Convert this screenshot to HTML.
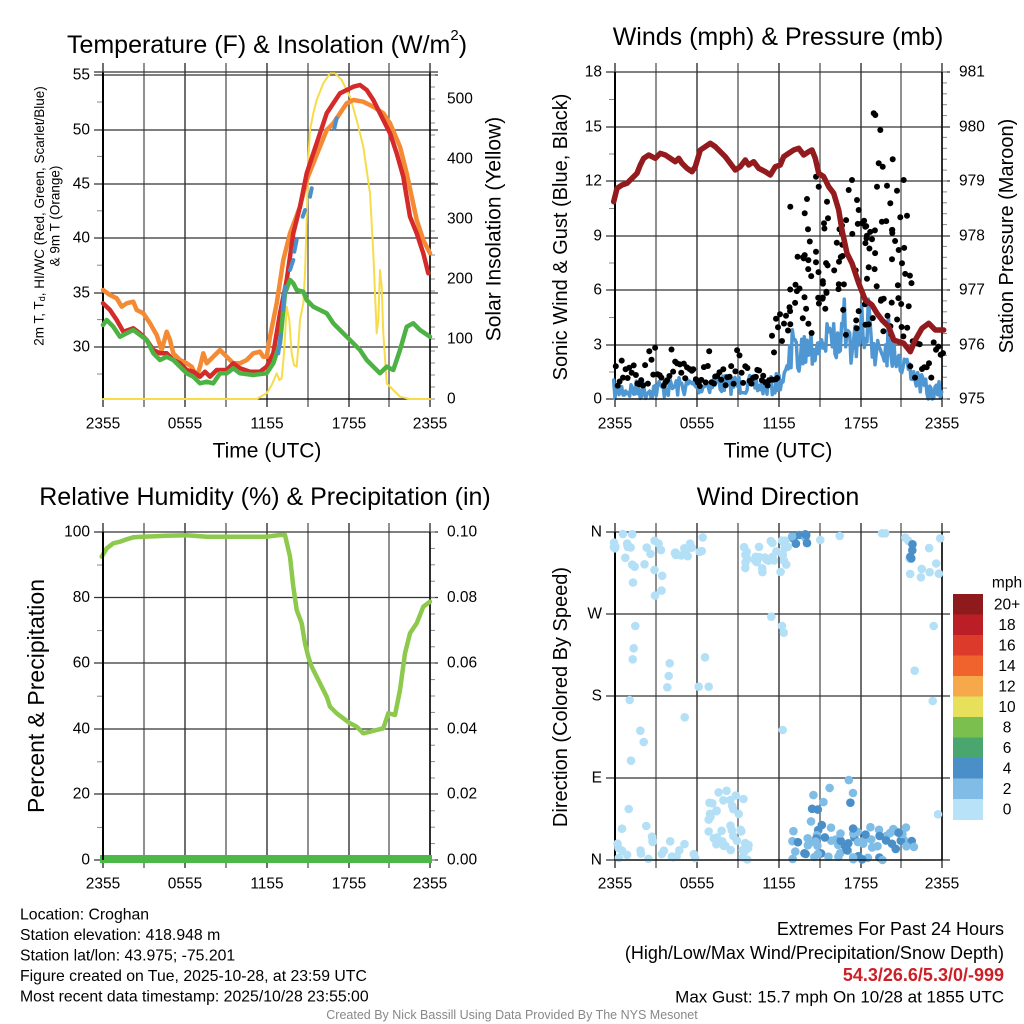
<!DOCTYPE html>
<html><head><meta charset="utf-8"><style>
html,body{margin:0;padding:0;background:#fff;}
svg{display:block;font-family:"Liberation Sans",sans-serif;}
.n{font-family:"Liberation Sans Narrow","Liberation Sans",sans-serif;}
</style></head><body>
<svg id="s" width="1024" height="1024" viewBox="0 0 1024 1024" xmlns="http://www.w3.org/2000/svg"></svg>
<script>
var s=[];var seed=7;function R(){seed=(seed*16807)%2147483647;return (seed-1)/2147483646;}
function L(x1,y1,x2,y2,c,w){s.push('<line x1="'+x1+'" y1="'+y1+'" x2="'+x2+'" y2="'+y2+'" stroke="'+(c||'#000')+'" stroke-width="'+(w||1)+'"/>');}
function T(x,y,t,sz,a,extra){s.push('<text x="'+x+'" y="'+y+'" font-size="'+sz+'" text-anchor="'+(a||'middle')+'" dominant-baseline="central" '+(extra||'')+'>'+t+'</text>');}
function P(pts,c,w,ox,oy){var d=[];for(var i=0;i<pts.length;i+=2)d.push((ox+pts[i]/3).toFixed(1)+','+(oy+pts[i+1]/3).toFixed(1));s.push('<polyline points="'+d.join(' ')+'" fill="none" stroke="'+c+'" stroke-width="'+w+'" stroke-linejoin="round" stroke-linecap="round"/>');}
function panel(ox,top,bot,yt,ylabs,rt,rlabs,rminor,lminor,xl){
 var x0=ox+103,x1=ox+430;
 var vx=[103,144,185,226,267,308,349,389,430];
 vx.forEach(function(v,i){L(ox+v,top-9,ox+v,bot+8,(i%2)?'#555':'#222',1.3);});
 yt.forEach(function(y,i){L(ox+94,y,ox+438,y,'#333',1.2);T(ox+90,y,ylabs[i],15.5,'end');});
 if(rt)rt.forEach(function(y,i){T(ox+447,y,rlabs[i],15.5,'start');});
 lminor.forEach(function(y){L(ox+97,y,x0,y,'#888',1);});
 rminor.forEach(function(y){L(x1,y,ox+435,y,'#888',1);});
 L(x0,top,x0,bot,'#000',2);L(x1,top,x1,bot,'#000',1.5);
 if(xl){['2355','0555','1155','1755','2355'].forEach(function(t,i){T(ox+[103,185,267,349,430][i],xl,t,15.5);});}
}
// Panel 1
var yt1=[75,130,184,238,293,347];
var lm1=[];for(var i=0;i<6;i++)lm1.push(102+i*54.4);lm1.push(374);
var rm1=[];for(var v=0;v<=540;v+=20)rm1.push(399-v*0.6);
panel(0,72,399,yt1,['55','50','45','40','35','30'],[399,339,279,219,159,99],['0','100','200','300','400','500'],rm1,lm1,424);
L(94,72,438,72,'#333',1.2);L(103,399,430,399,'#000',1.2);
P([309,1137,770,1137,800,1120,815,1095,830,1060,838,1080,845,1075,852,1000,860,860,868,900,875,1000,882,1035,890,1040,895,980,900,900,910,850,915,760,920,600,925,420,930,330,940,280,950,240,970,190,990,160,1005,160,1025,180,1050,230,1070,300,1090,380,1110,520,1120,700,1130,940,1135,900,1140,750,1145,800,1150,940,1160,1090,1180,1110,1200,1130,1230,1137,1290,1137],'#f7dc4a',2,0,20);
P([309,810,330,825,350,835,365,860,380,850,400,845,410,870,430,880,450,910,470,945,485,990,500,935,510,960,520,1000,540,1020,560,1030,575,1040,590,1070,600,1040,610,1000,620,1030,640,1010,660,990,680,1010,700,1030,720,1030,740,1020,760,1000,780,995,790,1010,800,1010,810,950,830,850,850,720,870,640,900,560,920,480,940,430,960,380,980,330,1000,310,1020,280,1040,250,1060,240,1090,245,1120,260,1150,280,1170,310,1200,380,1220,460,1250,600,1270,660,1290,700],'#f58a35',4.5,0,20);
P([309,850,330,870,350,900,370,935,400,925,420,940,440,960,460,990,480,1000,500,1000,520,1020,540,1030,560,1050,580,1055,600,1070,615,1055,630,1070,650,1050,680,1050,700,1030,720,1045,750,1055,780,1055,800,1040,820,1000,840,880,860,780,880,640,900,560,920,460,940,400,960,340,980,280,1000,250,1020,220,1040,210,1060,200,1080,195,1100,210,1120,240,1150,300,1170,340,1190,400,1210,470,1230,590,1250,640,1270,700,1285,760],'#d42a2a',4.5,0,20);
P([309,915,320,900,340,920,360,950,380,940,400,930,420,945,440,960,460,1000,480,1020,500,1010,520,1020,540,1040,560,1060,580,1070,600,1090,620,1085,640,1090,660,1060,680,1060,700,1045,720,1060,760,1065,800,1060,820,1030,840,970,855,820,870,780,880,790,890,810,910,815,920,840,940,860,960,870,980,880,1000,910,1020,930,1040,950,1060,970,1080,990,1100,1020,1120,1040,1140,1060,1160,1040,1180,1050,1200,990,1220,920,1240,910,1260,930,1290,950],'#4cb244',4.5,0,20);
[[835,1000,842,945],[848,870,855,800],[870,750,880,720],[883,695,890,660],[908,590,915,570],[930,530,935,505],[1003,325,1010,295]].forEach(function(a){P(a,'#4a90cc',4,0,20);});
T(267,45,'Temperature (F) &amp; Insolation (W/m<tspan font-size="15" dy="-10">2</tspan><tspan dy="10">)</tspan>',25);
T(267,451,'Time (UTC)',21);
s.push('<text transform="translate(39,216) rotate(-90)" font-size="13.5" text-anchor="middle" dominant-baseline="central">2m T, T<tspan font-size="9" dy="3">d</tspan><tspan dy="-3">, HI/WC (Red, Green, Scarlet/Blue)</tspan></text>');
T(0,0,'&amp; 9m T (Orange)',13.5,'middle','transform="translate(55,216) rotate(-90)"');
T(0,0,'Solar Insolation (Yellow)',21,'middle','transform="translate(494,229) rotate(-90)"');
// Panel 2
var yt2=[72,127,181,236,290,345,399];
var lm2=[];for(var i=0;i<6;i++)lm2.push(99.5+i*54.5);
var rm2=[];for(var v=0;v<=30;v++)rm2.push(399-v*10.9);
panel(512,72,399,yt2,['18','15','12','9','6','3','0'],yt2,['981','980','979','978','977','976','975'],rm2,lm2,424);
(function(){var base=[[309,1110],[400,1110],[500,1100],[600,1090],[700,1095],[780,1100],[820,1070],[840,1010],[880,980],[950,960],[1050,975],[1150,985],[1180,1030],[1220,1085],[1260,1125],[1290,1110]];
var pts=[];for(var x=305;x<=1292;x+=4){var i=0;while(i<base.length-2&&base[i+1][0]<x)i++;var a=base[i],b=base[i+1];var t=Math.max(0,Math.min(1,(x-a[0])/(b[0]-a[0])));var y=a[1]+t*(b[1]-a[1]);var amp=(x>830&&x<1180)?60:30;y+= (R()-0.5)*amp*2; if(x>830&&x<1170&&R()<0.1)y-=80; y=Math.min(1137,y);pts.push(x,y);}P(pts,'#4f97d3',3.5,512,20);})();
(function(){var d='';function dot(x,y){d+='<circle cx="'+(512+x/3).toFixed(1)+'" cy="'+(20+y/3).toFixed(1)+'" r="3"/>';}
for(var x=309;x<800;x+=6){dot(x+R()*3,1030+R()*70-(R()<0.15?50:0));}
for(var x=780;x<830;x+=6)dot(x,1000-R()*120);
var hi=[[1085,280],[1090,285],[1105,330],[1100,430],[1112,440],[1142,418],[1175,480],[1155,512],[1185,587],[835,560],[885,537],[878,580],[888,628],[912,470],[920,500],[945,545],[948,595],[990,640],[1020,480],[1010,510],[1035,540],[1040,570],[1050,610],[1060,620],[1080,658],[1095,500],[1125,497],[1135,550],[1165,592],[1140,630],[1160,690],[1170,730]];
hi.forEach(function(p){dot(p[0],p[1]);});
for(var i=0;i<100;i++){var x=830+R()*370;var y=600+R()*350;if(x<880)y=700+R()*260;dot(x,y);}
for(var x=1195;x<1295;x+=7)dot(x,960+R()*120);
s.push('<g fill="#000">'+d+'</g>');})();
P([305,545,315,505,330,495,345,490,360,475,375,460,385,435,395,415,410,405,420,410,430,415,445,400,460,405,475,415,490,425,500,415,510,430,525,445,540,455,550,440,565,390,580,380,595,370,610,380,625,395,640,410,655,430,670,450,685,440,700,420,710,435,725,425,740,445,760,455,775,465,790,440,805,435,815,410,830,400,845,390,860,385,875,405,890,395,900,390,910,415,920,460,935,470,950,500,965,520,980,570,990,630,1005,700,1020,730,1040,790,1060,840,1080,855,1095,880,1110,900,1130,920,1145,960,1160,965,1175,970,1195,995,1210,960,1230,925,1250,910,1270,930,1295,930],'#931b1e',5.5,512,20);
L(615,399,942,399,'#000',1.2);
T(778,37,'Winds (mph) &amp; Pressure (mb)',25);
T(778,451,'Time (UTC)',21);
T(0,0,'Sonic Wind &amp; Gust (Blue, Black)',20,'middle','transform="translate(561,237) rotate(-90)"');
T(0,0,'Station Pressure (Maroon)',20,'middle','transform="translate(1007,236) rotate(-90)"');
// Panel 3
var yt3=[532,597.5,663,729,794,860];
var lm3=[];for(var i=0;i<5;i++)lm3.push(565+i*65.6);
var rm3=[];for(var i=0;i<=20;i++)rm3.push(860-i*16.4);
panel(0,532,860,yt3,['100','80','60','40','20','0'],yt3,['0.10','0.08','0.06','0.04','0.02','0.00'],rm3,lm3,884);
P([305,230,320,205,340,190,360,185,380,178,400,172,430,170,500,167,560,166,620,170,660,170,700,170,800,170,840,165,855,165,870,230,880,320,890,390,905,430,915,490,925,530,935,560,950,590,965,620,980,650,990,680,1010,700,1030,715,1050,730,1070,740,1090,760,1110,755,1130,750,1150,745,1165,700,1185,705,1200,630,1215,520,1230,460,1250,430,1270,380,1290,365],'#8dc94c',4.5,0,480);
L(100,859,432,859,'#4cb848',8);
L(103,532,103,860,'#000',2);
T(265,497,'Relative Humidity (%) &amp; Precipitation (in)',25);
T(0,0,'Percent &amp; Precipitation',23,'middle','transform="translate(36,696) rotate(-90)"');
// Panel 4
var yt4=[532,614,696,778,860];
panel(512,532,860,yt4,['N','W','S','E','N'],null,null,[],[],884);
(function(){var d='';var C=['#b3e0f6','#7fbde6','#4a8fc8'];
function dot(x,y,c){d+='<circle cx="'+(512+x/3).toFixed(1)+'" cy="'+(480+y/3).toFixed(1)+'" r="4.3" fill="'+C[c]+'"/>';}
function cl(n,x0,x1,y0,y1,c){for(var i=0;i<n;i++)dot(x0+R()*(x1-x0),y0+R()*(y1-y0),typeof c=='number'?c:(R()<c[0]?c[1]:c[2]));}
cl(28,305,580,160,240,0);cl(8,360,460,250,350,0);cl(30,695,830,180,280,0);cl(8,830,890,160,200,[0.3,1,2]);
cl(10,1180,1290,170,300,0);cl(4,1150,1220,160,260,2);
[[310,200],[370,438],[365,505],[362,538],[473,550],[470,588],[466,622],[353,660],[385,752],[395,786],[357,842],[518,712],[579,532],[560,620],[590,620],[778,410],[810,438],[815,458],[812,750],[1265,438],[1208,572],[1262,663],[1278,1003],[350,987],[330,1046],[403,1038],[420,1070],[925,180],[983,168],[1110,160],[1120,160],[1180,173]].forEach(function(p){dot(p[0],p[1],0);});
cl(30,590,700,930,1100,0);cl(20,305,560,1080,1140,0);cl(10,640,710,1080,1140,0);
cl(70,840,1210,1040,1140,[0.45,2,1]);cl(10,880,1060,900,1040,[0.5,1,2]);
s.push(d);})();
L(615,860,942,860,'#000',1.2);
T(778,497,'Wind Direction',25);
T(0,0,'Direction (Colored By Speed)',20,'middle','transform="translate(561,697) rotate(-90)"');
var cb=['#8f1a1c','#bb1e26','#dc3a2a','#f0632d','#f6a94a','#e6e05a','#7bc04e','#4aa66f','#4a8fc8','#80bce6','#b7e2f7'];
var cbl=['20+','18','16','14','12','10','8','6','4','2','0'];
for(var i=0;i<11;i++){var y=594+i*20.5;s.push('<rect x="953" y="'+y+'" width="30" height="21" fill="'+cb[i]+'"/>');T(1007,y+11,cbl[i],15.5);}
T(1007,583,'mph',15.5);
var fl=['Location: Croghan','Station elevation: 418.948 m','Station lat/lon: 43.975; -75.201','Figure created on Tue, 2025-10-28, at 23:59 UTC','Most recent data timestamp: 2025/10/28 23:55:00'];
fl.forEach(function(t,i){T(20,915+i*20.5,t,15.8,'start','class="n"');});
T(1004,929,'Extremes For Past 24 Hours',18,'end','class="n"');
T(1004,953,'(High/Low/Max Wind/Precipitation/Snow Depth)',18,'end','class="n"');
T(1004,975,'54.3/26.6/5.3/0/-999',18,'end','class="n" fill="#cc2027" font-weight="bold"');
T(1004,997,'Max Gust: 15.7 mph On 10/28 at 1855 UTC',17,'end','class="n"');
T(512,1015,'Created By Nick Bassill Using Data Provided By The NYS Mesonet',12.5,'middle','class="n" fill="#888"');
document.getElementById('s').innerHTML=s.join('');
</script>
</body></html>
